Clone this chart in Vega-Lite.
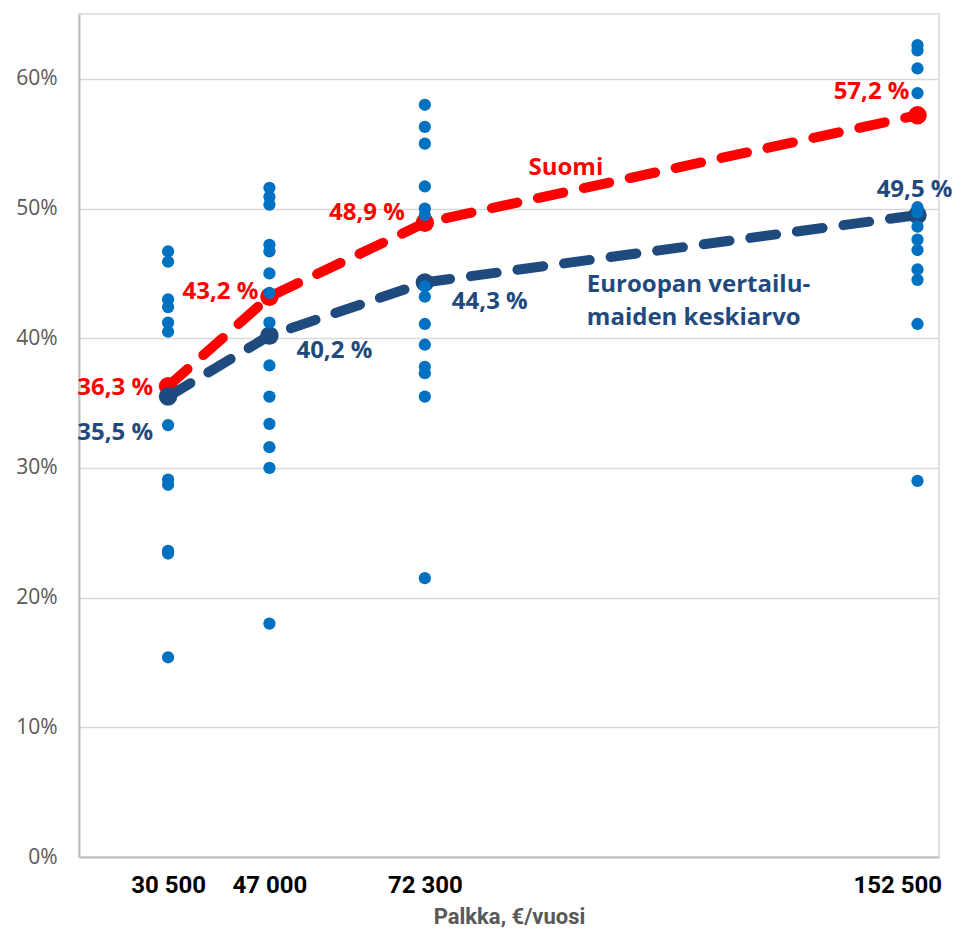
{
  "$schema": "https://vega.github.io/schema/vega-lite/v6.json",
  "width": 860,
  "height": 843,
  "autosize": {"type": "none"},
  "padding": {"left": 79, "top": 14, "right": 15, "bottom": 72},
  "background": "white",
  "config": {
    "view": {"stroke": "#d9d9d9", "strokeWidth": 1.5},
    "text": {"font": "Open Sans", "fontWeight": "bold", "fontSize": 24}
  },
  "datasets": {
    "means": [
      {"series": "Suomi", "salary": 30500, "value": 0.363, "label": "36,3 %"},
      {"series": "Suomi", "salary": 47000, "value": 0.432, "label": "43,2 %"},
      {"series": "Suomi", "salary": 72300, "value": 0.489, "label": "48,9 %"},
      {"series": "Suomi", "salary": 152500, "value": 0.572, "label": "57,2 %"},
      {"series": "Eurooppa", "salary": 30500, "value": 0.355, "label": "35,5 %"},
      {"series": "Eurooppa", "salary": 47000, "value": 0.402, "label": "40,2 %"},
      {"series": "Eurooppa", "salary": 72300, "value": 0.443, "label": "44,3 %"},
      {"series": "Eurooppa", "salary": 152500, "value": 0.495, "label": "49,5 %"}
    ],
    "pts": [
      {"salary": 30500, "value": 0.467}, {"salary": 30500, "value": 0.459}, {"salary": 30500, "value": 0.430},
      {"salary": 30500, "value": 0.424}, {"salary": 30500, "value": 0.412}, {"salary": 30500, "value": 0.405},
      {"salary": 30500, "value": 0.333}, {"salary": 30500, "value": 0.291}, {"salary": 30500, "value": 0.287},
      {"salary": 30500, "value": 0.236}, {"salary": 30500, "value": 0.234}, {"salary": 30500, "value": 0.154},
      {"salary": 47000, "value": 0.516}, {"salary": 47000, "value": 0.509}, {"salary": 47000, "value": 0.503},
      {"salary": 47000, "value": 0.472}, {"salary": 47000, "value": 0.467}, {"salary": 47000, "value": 0.450},
      {"salary": 47000, "value": 0.435}, {"salary": 47000, "value": 0.412}, {"salary": 47000, "value": 0.379},
      {"salary": 47000, "value": 0.355}, {"salary": 47000, "value": 0.334}, {"salary": 47000, "value": 0.316},
      {"salary": 47000, "value": 0.300}, {"salary": 47000, "value": 0.180},
      {"salary": 72300, "value": 0.580}, {"salary": 72300, "value": 0.563}, {"salary": 72300, "value": 0.550},
      {"salary": 72300, "value": 0.517}, {"salary": 72300, "value": 0.500}, {"salary": 72300, "value": 0.495},
      {"salary": 72300, "value": 0.440}, {"salary": 72300, "value": 0.432}, {"salary": 72300, "value": 0.411},
      {"salary": 72300, "value": 0.395}, {"salary": 72300, "value": 0.378}, {"salary": 72300, "value": 0.373},
      {"salary": 72300, "value": 0.355}, {"salary": 72300, "value": 0.215},
      {"salary": 152500, "value": 0.626}, {"salary": 152500, "value": 0.622}, {"salary": 152500, "value": 0.608},
      {"salary": 152500, "value": 0.589}, {"salary": 152500, "value": 0.501}, {"salary": 152500, "value": 0.497},
      {"salary": 152500, "value": 0.486}, {"salary": 152500, "value": 0.476}, {"salary": 152500, "value": 0.468},
      {"salary": 152500, "value": 0.453}, {"salary": 152500, "value": 0.445}, {"salary": 152500, "value": 0.411},
      {"salary": 152500, "value": 0.290}
    ]
  },
  "encoding": {
    "x": {
      "field": "salary", "type": "quantitative",
      "scale": {"domain": [16000, 156000], "nice": false, "zero": false},
      "axis": {
        "values": [30500, 47000, 72300, 152500],
        "labelExpr": "replace(format(datum.value, ','), ',', ' ')",
        "labelFont": "Roboto", "labelFontWeight": "bold", "labelFontSize": 24, "labelColor": "#000000",
        "labelPadding": 16, "labelOverlap": false,
        "labelFlush": 25, "labelFlushOffset": 24,
        "ticks": false, "grid": false,
        "domainColor": "#bfbfbf", "domainWidth": 2,
        "title": "Palkka, €/vuosi",
        "titleFont": "Roboto", "titleFontWeight": "bold", "titleFontSize": 22, "titleColor": "#595959",
        "titlePadding": 9
      }
    },
    "y": {
      "field": "value", "type": "quantitative",
      "scale": {"domain": [0, 0.65], "nice": false},
      "axis": {
        "values": [0, 0.1, 0.2, 0.3, 0.4, 0.5, 0.6],
        "format": ".0%",
        "labelFont": "Open Sans", "labelFontSize": 21, "labelColor": "#595959",
        "labelPadding": 22,
        "ticks": false,
        "gridColor": "#d9d9d9", "gridWidth": 1.5,
        "domainColor": "#bfbfbf", "domainWidth": 2,
        "title": null
      }
    }
  },
  "layer": [
    {
      "data": {"name": "means"},
      "transform": [{"filter": "datum.series === 'Suomi'"}],
      "mark": {"type": "line", "color": "#ff0000", "strokeWidth": 10, "strokeDash": [26, 21], "strokeCap": "round"}
    },
    {
      "data": {"name": "means"},
      "transform": [{"filter": "datum.series === 'Suomi'"}],
      "mark": {"type": "circle", "color": "#ff0000", "opacity": 1, "size": 340}
    },
    {
      "data": {"name": "means"},
      "transform": [{"filter": "datum.series === 'Eurooppa'"}],
      "mark": {"type": "line", "color": "#1f4a7e", "strokeWidth": 10, "strokeDash": [26, 21], "strokeCap": "round"}
    },
    {
      "data": {"name": "means"},
      "transform": [{"filter": "datum.series === 'Eurooppa'"}],
      "mark": {"type": "circle", "color": "#1f4a7e", "opacity": 1, "size": 340}
    },
    {
      "data": {"name": "pts"},
      "mark": {"type": "circle", "color": "#0070c0", "opacity": 1, "size": 150}
    },
    {
      "data": {"name": "means"},
      "transform": [{"filter": "datum.series === 'Suomi' && datum.salary === 30500"}],
      "mark": {"type": "text", "color": "#ff0000", "align": "right", "baseline": "middle", "dx": -15, "dy": 2},
      "encoding": {"text": {"field": "label"}}
    },
    {
      "data": {"name": "means"},
      "transform": [{"filter": "datum.series === 'Suomi' && datum.salary === 47000"}],
      "mark": {"type": "text", "color": "#ff0000", "align": "right", "baseline": "middle", "dx": -11, "dy": -5},
      "encoding": {"text": {"field": "label"}}
    },
    {
      "data": {"name": "means"},
      "transform": [{"filter": "datum.series === 'Suomi' && datum.salary === 72300"}],
      "mark": {"type": "text", "color": "#ff0000", "align": "right", "baseline": "middle", "dx": -20, "dy": -10},
      "encoding": {"text": {"field": "label"}}
    },
    {
      "data": {"name": "means"},
      "transform": [{"filter": "datum.series === 'Suomi' && datum.salary === 152500"}],
      "mark": {"type": "text", "color": "#ff0000", "align": "right", "baseline": "middle", "dx": -8, "dy": -23},
      "encoding": {"text": {"field": "label"}}
    },
    {
      "data": {"name": "means"},
      "transform": [{"filter": "datum.series === 'Eurooppa' && datum.salary === 30500"}],
      "mark": {"type": "text", "color": "#1f4a7e", "align": "right", "baseline": "middle", "dx": -15, "dy": 36},
      "encoding": {"text": {"field": "label"}}
    },
    {
      "data": {"name": "means"},
      "transform": [{"filter": "datum.series === 'Eurooppa' && datum.salary === 47000"}],
      "mark": {"type": "text", "color": "#1f4a7e", "align": "left", "baseline": "middle", "dx": 27, "dy": 15},
      "encoding": {"text": {"field": "label"}}
    },
    {
      "data": {"name": "means"},
      "transform": [{"filter": "datum.series === 'Eurooppa' && datum.salary === 72300"}],
      "mark": {"type": "text", "color": "#1f4a7e", "align": "left", "baseline": "middle", "dx": 27, "dy": 20},
      "encoding": {"text": {"field": "label"}}
    },
    {
      "data": {"name": "means"},
      "transform": [{"filter": "datum.series === 'Eurooppa' && datum.salary === 152500"}],
      "mark": {"type": "text", "color": "#1f4a7e", "align": "right", "baseline": "middle", "dx": 35, "dy": -25},
      "encoding": {"text": {"field": "label"}}
    },
    {
      "data": {"name": "means"},
      "transform": [{"filter": "datum.series === 'Suomi' && datum.salary === 72300"}],
      "mark": {"type": "text", "color": "#ff0000", "align": "center", "baseline": "middle", "dx": 141, "dy": -55, "text": "Suomi"}
    },
    {
      "data": {"name": "means"},
      "transform": [{"filter": "datum.series === 'Eurooppa' && datum.salary === 72300"}],
      "mark": {"type": "text", "color": "#1f4a7e", "align": "left", "baseline": "alphabetic", "dx": 162, "dy": 10, "lineHeight": 33,
        "text": ["Euroopan vertailu-", "maiden keskiarvo"]}
    }
  ]
}
